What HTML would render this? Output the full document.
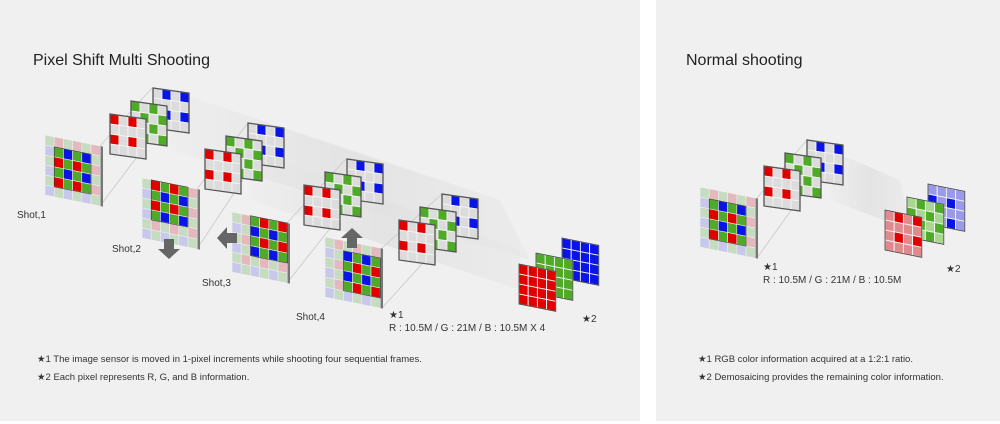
<!DOCTYPE html>
<html><head><meta charset="utf-8"><style>
body{margin:0;width:1000px;height:424px;background:#fff;overflow:hidden;font-family:"Liberation Sans",sans-serif;}
svg{position:absolute;left:0;top:0}
</style></head><body>
<svg id="s" width="1000" height="424" xmlns="http://www.w3.org/2000/svg" font-family="Liberation Sans, sans-serif" fill="#222">
<defs>
<linearGradient id="bg1" x1="0" y1="0" x2="1" y2="0"><stop offset="0" stop-color="#e4e4e4" stop-opacity="0.2"/><stop offset="0.5" stop-color="#e2e2e2" stop-opacity="0.9"/><stop offset="1" stop-color="#e6e6e6" stop-opacity="0.5"/></linearGradient>
</defs>
<rect x="0" y="0" width="640" height="421" fill="#f0f0f0"/>
<rect x="656" y="0" width="344" height="421" fill="#f0f0f0"/>
<g id="beams" fill="url(#bg1)">
<polygon points="170,90 500,200 530,260 170,150"/>
<polygon points="250,150 520,250 520,290 250,200"/>
<polygon points="830,150 900,180 910,230 830,200"/>
</g>
<g id="lines" stroke="#c8c8c8" stroke-width="0.8" fill="none"></g>
<g id="d"></g>
<text x="33" y="65" font-size="16" fill="#222">Pixel Shift Multi Shooting</text>
<text x="686" y="65" font-size="16" fill="#222">Normal shooting</text>
<g font-size="10" fill="#333">
<text x="17" y="218">Shot,1</text>
<text x="112" y="252">Shot,2</text>
<text x="202" y="286">Shot,3</text>
<text x="296" y="320">Shot,4</text>
<text x="389" y="318">★1</text>
<text x="389" y="331">R : 10.5M / G : 21M / B : 10.5M X 4</text>
<text x="582" y="322">★2</text>
<text x="763" y="270">★1</text>
<text x="763" y="283">R : 10.5M / G : 21M / B : 10.5M</text>
<text x="946" y="272">★2</text>
<text x="37" y="362" font-size="9.5">★1  The image sensor is moved in 1-pixel increments while shooting four sequential frames.</text>
<text x="37" y="380" font-size="9.5">★2  Each pixel represents R, G, and B information.</text>
<text x="698" y="362" font-size="9.5">★1   RGB color information acquired at a 1:2:1 ratio.</text>
<text x="698" y="380" font-size="9.5">★2   Demosaicing provides the remaining color information.</text>
</g>
</svg>
<script>
var d=document.getElementById('d'),L=document.getElementById('lines');
var R='#e00000',G='#4faa28',B='#0a14e6';
var LR='#e4b8bc',LG='#c6dcc0',LB='#c8c8ec',GR='#dcdcdc';
var h='';
function sensor(x,y,off){
 var c=9.2,ch=10,s=0.2;
 var g='<g transform="matrix(1,'+s+',0,1,'+x+','+y+')">';
 g+='<rect x="55" y="0" width="3" height="'+(6*ch)+'" fill="#777"/>';
 for(var r=0;r<6;r++)for(var k=0;k<6;k++){
  var rr=r+off[1],kk=k+off[0],col;
  var ev=((rr%2)+2)%2,ek=((kk%2)+2)%2;
  var t=ev==0?(ek==0?'G':'R'):(ek==0?'B':'G');
  var inner=(r>=off[3]&&r<off[3]+4&&k>=off[2]&&k<off[2]+4);
  if(inner)col=t=='R'?R:t=='G'?G:B;else col=t=='R'?LR:t=='G'?LG:LB;
  g+='<rect x="'+(k*c)+'" y="'+(r*ch)+'" width="'+c+'" height="'+ch+'" fill="'+col+'" stroke="#eee" stroke-width="0.6"/>';
 }
 g+='<rect x="'+(off[2]*c)+'" y="'+(off[3]*ch)+'" width="'+(4*c)+'" height="'+(4*ch)+'" fill="none" stroke="#333" stroke-width="0.6"/>';
 return g+'</g>';
}
function panel(x,y,type){
 var c=9,ch=10,s=0.14;
 var g='<g transform="matrix(1,'+s+',0,1,'+x+','+y+')">';
 for(var r=0;r<4;r++)for(var k=0;k<4;k++){
  var col=GR;
  if(type=='R'&&r%2==0&&k%2==0)col=R;
  if(type=='G'&&(r+k)%2==0)col=G;
  if(type=='B'&&r%2==0&&k%2==1)col=B;
  g+='<rect x="'+(k*c)+'" y="'+(r*ch)+'" width="'+c+'" height="'+ch+'" fill="'+col+'" stroke="#f6f6f6" stroke-width="0.8"/>';
 }
 g+='<rect x="0" y="0" width="36" height="40" fill="none" stroke="#555" stroke-width="1.3"/>';
 return g+'</g>';
}
function group(x,y){return panel(x+43,y-26,'B')+panel(x+21,y-13,'G')+panel(x,y,'R');}
function out(x,y,col,light){
 var c=9.2,ch=10,s=0.2;
 var g='<g transform="matrix(1,'+s+',0,1,'+x+','+y+')">';
 for(var r=0;r<4;r++)for(var k=0;k<4;k++){
  var f=col;
  if(light){f=light;if((col==R&&r%2==0&&k%2==1)||(col==G&&(r+k)%2==1)||(col==B&&r%2==1&&k%2==0))f=col;}
  g+='<rect x="'+(k*c)+'" y="'+(r*ch)+'" width="'+c+'" height="'+ch+'" fill="'+f+'" stroke="#f4f4f4" stroke-width="0.9"/>';
 }
 g+='<rect x="0" y="0" width="36.8" height="40" fill="none" stroke="#444" stroke-width="0.8"/>';
 return g+'</g>';
}
function arrow(x,y,rot){
 return '<g transform="translate('+x+','+y+') rotate('+rot+')" fill="#666"><polygon points="-5,-10 5,-10 5,0 11,0 0,10 -11,0 -5,0"/></g>';
}
var ln='';
function line(a,b,c,e){ln+='<line x1="'+a+'" y1="'+b+'" x2="'+c+'" y2="'+e+'"/>';}
line(100,146,152,88);line(100,206,152,137);line(197,189,248,123);line(197,249,248,172);
line(287,223,346,159);line(287,283,346,208);line(382,248,442,194);line(382,308,442,242);
line(757,198,807,140);line(757,258,807,188);
L.innerHTML=ln;
h+=group(110,114)+group(205,149)+group(304,185)+group(399,220)+group(764,166);
h+=sensor(45,135,[0,0,1,1]);
h+=sensor(142,178,[0,0,1,0]);
h+=sensor(232,212,[0,0,2,0]);
h+=sensor(325,237,[0,0,2,1]);
h+=sensor(700,187,[0,0,1,1]);
h+=out(562,238,B)+out(536,253,G)+out(519,264,R);
h+=out(928,184,B,'#9a9ae8')+out(907,197,G,'#a8d890')+out(885,210,R,'#e08a8e');
h+=arrow(169,249,0)+arrow(227,238,90)+arrow(352,238,180);
d.innerHTML=h;
</script>
</body></html>
